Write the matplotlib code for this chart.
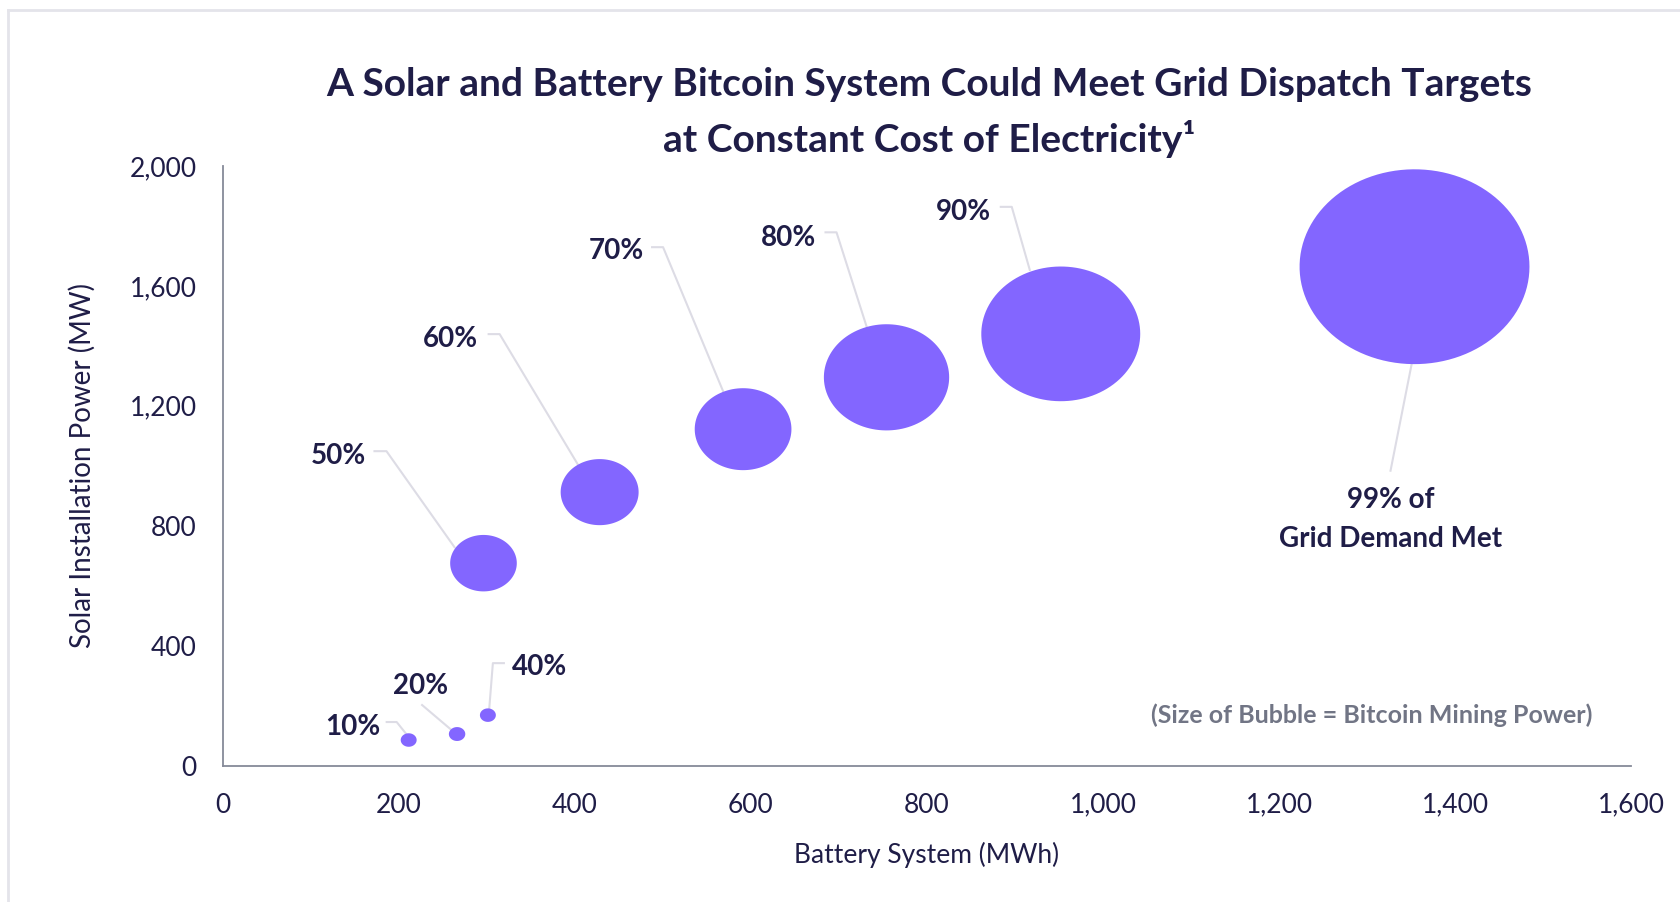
import numpy as np
import matplotlib
matplotlib.use("Agg")
import matplotlib.pyplot as plt
from matplotlib.lines import Line2D
from matplotlib.transforms import IdentityTransform

plt.rcParams["font.family"] = ["Lato", "DejaVu Sans"]

# --- data ---
dispatch_labels = ["10%", "20%", "40%", "50%", "60%", "70%", "80%", "90%",
                   "99% of\nGrid Demand Met"]
battery_mwh = [211, 266, 301, 296, 428, 591, 754, 952, 1354]
solar_mw = [85, 105, 168, 675, 912, 1122, 1295, 1440, 1664]
# relative bitcoin mining power (bubble area), 99% case = 100
mining_power = [0.48, 0.51, 0.48, 8.4, 11.5, 17.7, 29.7, 47.8, 100]

x_ticks = [0, 200, 400, 600, 800, 1000, 1200, 1400, 1600]
y_ticks = [0, 400, 800, 1200, 1600, 2000]

# --- style ---
NAVY = "#1f1d47"
BUBBLE = "#8366ff"
SPINE = "#868a99"
LEADER = "#dddce5"
NOTE = "#717585"
BUBBLE_SCALE = 274  # pt^2 per unit of mining power

# label placement, pixel offsets from the bubble centre (x right, y down)
label_offsets = [(-56, -13), (-37, -48), (52, -48), (-145, -107), (-149, -153),
                 (-127, -178), (-98, -139), (-97, -122), (-24, 253)]
leader_paths = [
    [(-22, -18), (-12, -18), (0, -3)],
    [(-35, -29), (-2, -1)],
    [(16, -52), (5, -52), (1, -2)],
    [(-109, -112), (-97, -112), (-29, -16)],
    [(-111, -158), (-100, -158), (-22, -28)],
    [(-91, -182), (-80, -182), (-20, -38)],
    [(-61, -145), (-50, -145), (-20, -51)],
    [(-60, -127), (-49, -127), (-31, -64)],
    [(-3, 98), (-24, 204)],
]

W, H = 1681, 902
fig = plt.figure(figsize=(W / 100, H / 100), dpi=100)
ax = fig.add_axes([223 / W, 1 - 765.5 / H, (1631 - 223) / W, (765.5 - 166) / H])

# ellipse marker (bubbles are drawn slightly wider than tall)
theta = np.linspace(0, 2 * np.pi, 120)
ellipse = np.column_stack([np.cos(theta), np.sin(theta) / 1.18])

ax.set_xlim(0, 1600)
ax.set_ylim(0, 2000)
sizes = [m * BUBBLE_SCALE for m in mining_power]
ax.scatter(battery_mwh, solar_mw, s=sizes, marker=ellipse, color=BUBBLE,
           linewidths=0, zorder=3, clip_on=False)

ax.set_xticks(x_ticks)
ax.set_yticks(y_ticks)
ax.set_xticklabels([f"{v:,}" for v in x_ticks])
ax.set_yticklabels([f"{v:,}" for v in y_ticks])
ax.tick_params(axis="both", length=0, labelsize=19, labelcolor=NAVY)
ax.tick_params(axis="x", pad=19.5)
ax.tick_params(axis="y", pad=19)
for side in ["top", "right"]:
    ax.spines[side].set_visible(False)
for side in ["left", "bottom"]:
    ax.spines[side].set_color(SPINE)
    ax.spines[side].set_linewidth(1.3)

ax.set_xlabel("Battery System (MWh)", fontsize=19, color=NAVY, labelpad=17.5)
ax.set_ylabel("Solar Installation Power (MW)", fontsize=20, color=NAVY, labelpad=24)

# labels + leader lines, placed in pixels around each bubble
centres = ax.transData.transform(np.column_stack([battery_mwh, solar_mw]))
for (cx, cy), text, (dx, dy), path in zip(centres, dispatch_labels,
                                          label_offsets, leader_paths):
    xs = [cx + px for px, py in path]
    ys = [cy - py for px, py in path]
    ax.add_line(Line2D(xs, ys, transform=IdentityTransform(), color=LEADER,
                       lw=1.5, zorder=2, clip_on=False))
    ax.text(cx + dx, cy - dy, text, transform=IdentityTransform(), fontsize=20,
            fontweight="bold", color=NAVY, ha="center", va="center",
            linespacing=1.64, zorder=4)

ax.text(1372 / W, 1 - 715 / H, "(Size of Bubble = Bitcoin Mining Power)",
        transform=fig.transFigure, fontsize=18, fontweight="bold", color=NOTE,
        ha="center", va="center")

fig.text(929 / W, 1 - 84 / H,
         "A Solar and Battery Bitcoin System Could Meet Grid Dispatch Targets",
         fontsize=28, fontweight="bold", color=NAVY, ha="center", va="center")
fig.text(929 / W, 1 - 139 / H, "at Constant Cost of Electricity\u00b9",
         fontsize=28, fontweight="bold", color=NAVY, ha="center", va="center")

# light frame on the top and left edges
fig.add_artist(Line2D([8.5 / W, 1], [1 - 9.5 / H, 1 - 9.5 / H],
                      transform=fig.transFigure, color="#e4e4ea", lw=2))
fig.add_artist(Line2D([8.5 / W, 8.5 / W], [0, 1 - 9.5 / H],
                      transform=fig.transFigure, color="#e4e4ea", lw=2))

fig.savefig("out.png", dpi=100)
